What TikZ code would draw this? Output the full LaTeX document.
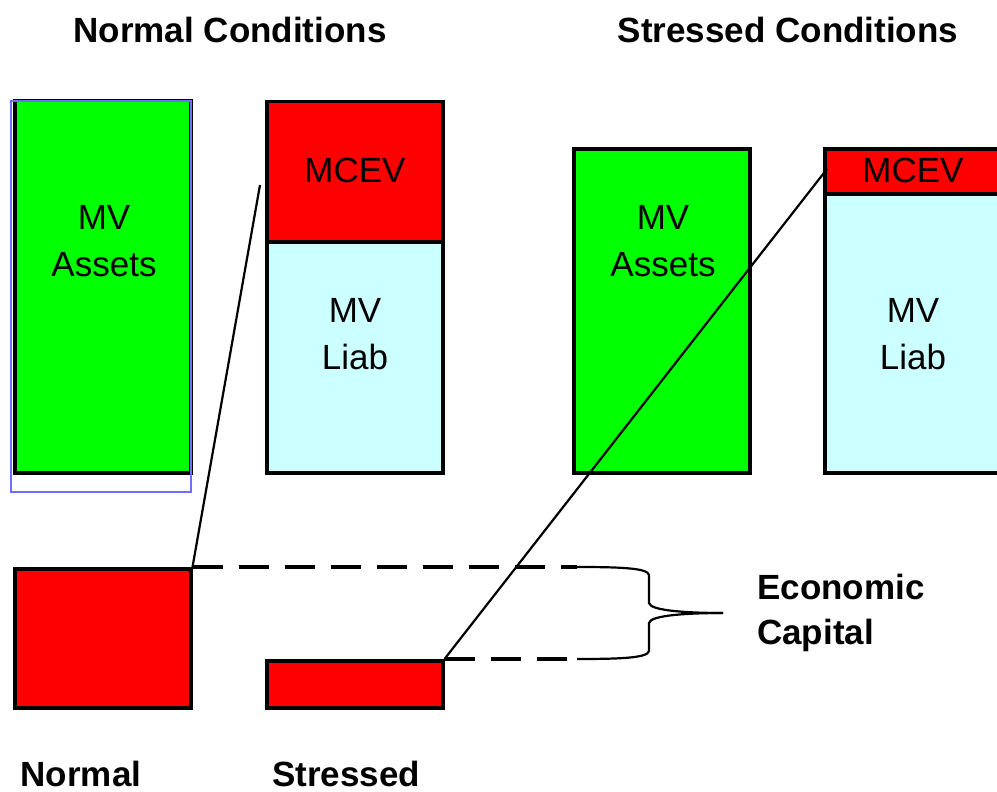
\documentclass[tikz,border=0pt]{standalone}
\usepackage{fontspec}
\setmainfont{Liberation Sans}
\begin{document}
\begin{tikzpicture}[x=1pt,y=-1pt,
  blk/.style={draw=black,line width=3.5pt,anchor=north west,inner sep=0pt},
  assets/.style={blk,fill=green},
  mcev/.style={blk,fill=red},
  liab/.style={blk,fill={rgb,255:red,204;green,255;blue,255}},
  lbl/.style={font=\fontsize{35}{47}\selectfont,align=center,inner sep=0pt},
  title/.style={font=\fontsize{35}{47}\selectfont\bfseries,inner sep=0pt},
  conn/.style={line width=2.2pt},
  dashline/.style={line width=4pt,dash pattern=on 30pt off 16pt},
  brace/.style={line width=2.2pt}]
\clip (0,0) rectangle (997,792);
\fill[white] (0,0) rectangle (997,792);
% titles
\node[title] (tn) at (230,30) {Normal Conditions};
\node[title] (ts) at (788,30) {Stressed Conditions};
% normal conditions
\node[assets,minimum width=176pt,minimum height=372pt] (na) at (13,99) {};
\draw[color={rgb,255:red,110;green,110;blue,255},line width=1.3pt] (11,101) rectangle (191,492);
\node[liab,minimum width=176pt,minimum height=231pt] (nl) at (265,240) {};
\node[mcev,minimum width=176pt,minimum height=140pt] (nm) at (265,100) {};
\node[lbl] (tna) at (104,241) {MV\\Assets};
\node[lbl] (tnm) at (355,170) {MCEV};
\node[lbl] (tnl) at (355,334) {MV\\Liab};
% stressed conditions
\node[assets,minimum width=176pt,minimum height=324pt] (sa) at (572,147) {};
\node[liab,minimum width=190pt,minimum height=279pt] (sl) at (823,192) {};
\node[mcev,minimum width=190pt,minimum height=45pt] (sm) at (823,147) {};
\node[lbl] (tsa) at (663,241) {MV\\Assets};
\node[lbl] (tsm) at (913,170) {MCEV};
\node[lbl] (tsl) at (913,334) {MV\\Liab};
% capital boxes
\node[mcev,minimum width=176pt,minimum height=139pt] (nc) at (13,567) {};
\node[mcev,minimum width=176pt,minimum height=47pt] (sc) at (265,659) {};
% connectors
\coordinate (p1) at (260,185);
\coordinate (p2) at (827,169);
\draw[conn] (nc.north east) -- (p1);
\draw[conn] (sc.north east) -- (p2);
\coordinate (d1) at (577,567);
\coordinate (d2) at (577,659);
\draw[dashline] (nc.north east) -- (d1);
\draw[dashline] (sc.north east) -- (d2);
% brace
\coordinate (tip) at (723,613);
\draw[brace] (d1) .. controls (620,567) and (648,568) .. (649,575)
  -- (649,603) .. controls (650,611) and (690,613) .. (tip);
\draw[brace] (d2) .. controls (620,659) and (648,658) .. (649,651)
  -- (649,623) .. controls (650,615) and (690,613) .. (tip);
\node[title,align=left,anchor=west,font=\fontsize{35}{45}\selectfont\bfseries] (ec) at (757,613) {Economic\\Capital};
% bottom labels
\node[title,anchor=base] (ln) at (81,786) {Normal};
\node[title,anchor=base] (ls) at (346,786) {Stressed};
\end{tikzpicture}
\end{document}
